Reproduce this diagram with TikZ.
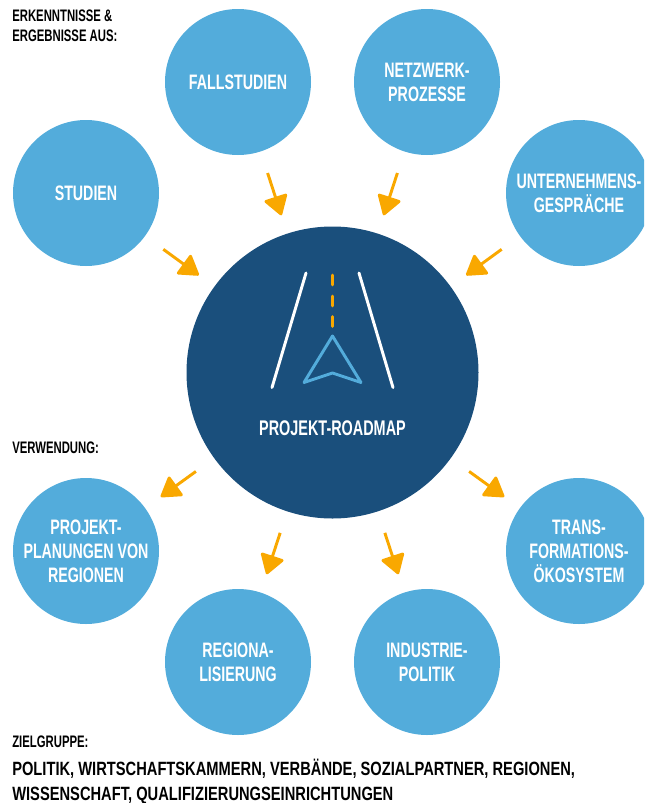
\documentclass[tikz,border=0pt]{standalone}
\usepackage{fontspec}
\setmainfont{Liberation Sans}[FakeStretch=0.68]
\newfontfamily\audiencefont{Liberation Sans}[FakeStretch=0.765]
\usetikzlibrary{arrows.meta}
\definecolor{lightblue}{HTML}{53ACDB}
\definecolor{darkblue}{HTML}{1A4F7C}
\definecolor{roadorange}{HTML}{F9A800}
\tikzset{
  bubble/.style={circle,fill=lightblue,text=white,minimum size=109.5pt,inner sep=0pt,outer sep=0pt,align=center,font=\bfseries\fontsize{15.7}{18}\selectfont},
  hub/.style={circle,fill=darkblue,minimum size=219pt,inner sep=0pt,outer sep=0pt},
  caption/.style={anchor=base west,inner sep=0pt,align=left,font=\bfseries\fontsize{12.5}{14.3}\selectfont},
  audience/.style={anchor=base west,inner sep=0pt,align=left,font=\audiencefont\bfseries\fontsize{14.4}{18.75}\selectfont},
  feed/.style={roadorange,line width=2.2pt,shorten <=17pt,shorten >=14.5pt,-{Triangle[length=15.5pt,width=19pt,round]}}
}
\begin{document}
\begin{tikzpicture}[x=0.75pt,y=-0.75pt]
      \clip (0,0) rectangle (644,803);
      \draw
        (332.5,372.5) node[hub] (roadmap){}
        (86,193) node[bubble] (studien){STUDIEN}
        (238,82) node[bubble] (fallstudien){FALLSTUDIEN}
        (427,82) node[bubble] (netzwerk){NETZWERK-\\PROZESSE}
        (579,193) node[bubble] (unternehmen){UNTERNEHMENS-\\GESPRÄCHE}
        (86,551) node[bubble] (planungen){PROJEKT-\\PLANUNGEN VON\\REGIONEN}
        (238,662) node[bubble] (regional){REGIONA-\\LISIERUNG}
        (427,662) node[bubble] (industrie){INDUSTRIE-\\POLITIK}
        (579,551) node[bubble] (trans){TRANS-\\FORMATIONS-\\ÖKOSYSTEM};
      \begin{scope}[feed]
        \draw (studien) to (roadmap);
        \draw (fallstudien) to (roadmap);
        \draw (netzwerk) to (roadmap);
        \draw (unternehmen) to (roadmap);
        \draw (roadmap) to (planungen);
        \draw (roadmap) to (regional);
        \draw (roadmap) to (industrie);
        \draw (roadmap) to (trans);
      \end{scope}
      % road and pointer
      \draw[white,line width=2.2pt,line cap=round] (306,273) -- (272,387.5);
      \draw[white,line width=2.2pt,line cap=round] (359,273) -- (393,387.5);
      \draw[roadorange,line width=2.2pt,line cap=round] (332.5,275) -- (332.5,285);
      \draw[roadorange,line width=2.2pt,line cap=round] (332.5,296) -- (332.5,306);
      \draw[roadorange,line width=2.2pt,line cap=round] (332.5,316.5) -- (332.5,326.5);
      \draw[lightblue,line width=2.2pt,line join=round] (332.5,336) -- (361,382.5) -- (332.5,373) -- (304,382.5) -- cycle;
      \node[text=white,inner sep=0pt,anchor=base,font=\bfseries\fontsize{15.9}{18}\selectfont] (titel) at (332.5,435) {PROJEKT-ROADMAP};
      % labels
      \node[caption] (quellen) at (12,41) {ERKENNTNISSE \&\\ERGEBNISSE AUS:};
      \node[caption] (verwendung) at (12,453) {VERWENDUNG:};
      \node[caption] (zielgruppe) at (12,747) {ZIELGRUPPE:};
      \node[audience] (gruppen) at (12,800) {POLITIK, WIRTSCHAFTSKAMMERN, VERBÄNDE, SOZIALPARTNER, REGIONEN,\\WISSENSCHAFT, QUALIFIZIERUNGSEINRICHTUNGEN};
    \end{tikzpicture}
\end{document}
